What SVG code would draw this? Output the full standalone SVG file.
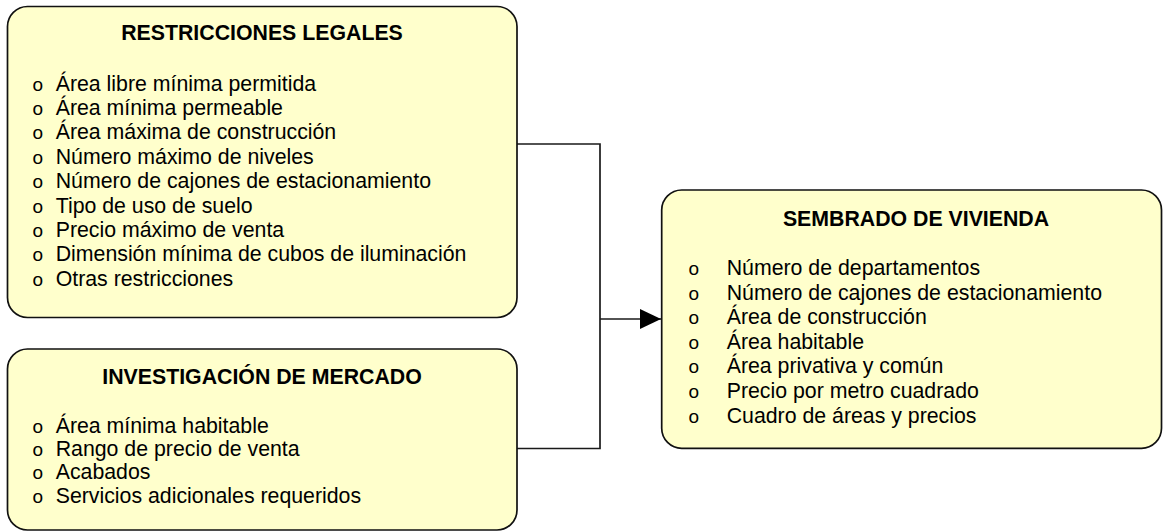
<svg xmlns="http://www.w3.org/2000/svg" width="1163" height="532" viewBox="0 0 1163 532">
<style>
.box{fill:#FFFFCC;stroke:#111;stroke-width:1.7}
.t{font-family:"Liberation Sans",Arial,sans-serif;font-size:21.3px;fill:#000}
.h{font-family:"Liberation Sans",Arial,sans-serif;font-size:21.3px;font-weight:bold;fill:#000;text-anchor:middle}
.b{font-family:"Liberation Sans",Arial,sans-serif;font-size:19px;fill:#000}
.c{fill:none;stroke:#1a1a1a;stroke-width:1.7}
</style>
<defs>
<marker id="arr" markerUnits="userSpaceOnUse" markerWidth="22" markerHeight="22" refX="21" refY="10" orient="auto">
<path d="M0,0 L21,10 L0,20 Z" fill="#000"/>
</marker>
</defs>
<g id="connectors">
<path class="c" d="M517,144 H600 V448.5 H517"/>
<path class="c" d="M600,319 H661" marker-end="url(#arr)"/>
</g>
<g id="restricciones">
<rect class="box" x="7.5" y="6.5" width="509.5" height="311" rx="20"/>
<text class="h" x="262" y="39.5">RESTRICCIONES LEGALES</text>
<g class="b">
<text x="32.5" y="90.5">o</text><text x="32.5" y="114.9">o</text><text x="32.5" y="139.3">o</text><text x="32.5" y="163.7">o</text><text x="32.5" y="188.1">o</text><text x="32.5" y="212.5">o</text><text x="32.5" y="236.9">o</text><text x="32.5" y="261.3">o</text><text x="32.5" y="285.7">o</text>
</g>
<text class="t" x="55.7" y="90.5">Área libre mínima permitida</text>
<text class="t" x="55.7" y="114.9">Área mínima permeable</text>
<text class="t" x="55.7" y="139.3">Área máxima de construcción</text>
<text class="t" x="55.7" y="163.7">Número máximo de niveles</text>
<text class="t" x="55.7" y="188.1">Número de cajones de estacionamiento</text>
<text class="t" x="55.7" y="212.5">Tipo de uso de suelo</text>
<text class="t" x="55.7" y="236.9">Precio máximo de venta</text>
<text class="t" x="55.7" y="261.3">Dimensión mínima de cubos de iluminación</text>
<text class="t" x="55.7" y="285.7">Otras restricciones</text>
</g>
<g id="investigacion">
<rect class="box" x="7.5" y="349" width="509.5" height="181" rx="20"/>
<text class="h" x="262" y="383.5">INVESTIGACIÓN DE MERCADO</text>
<g class="b">
<text x="32.5" y="432.5">o</text><text x="32.5" y="455.9">o</text><text x="32.5" y="479.3">o</text><text x="32.5" y="502.7">o</text>
</g>
<text class="t" x="55.7" y="432.5">Área mínima habitable</text>
<text class="t" x="55.7" y="455.9">Rango de precio de venta</text>
<text class="t" x="55.7" y="479.3">Acabados</text>
<text class="t" x="55.7" y="502.7">Servicios adicionales requeridos</text>
</g>
<g id="sembrado">
<rect class="box" x="661.7" y="190" width="499.8" height="258.3" rx="20"/>
<text class="h" x="916" y="225.7">SEMBRADO DE VIVIENDA</text>
<g class="b">
<text x="688.5" y="275">o</text><text x="688.5" y="299.6">o</text><text x="688.5" y="324.2">o</text><text x="688.5" y="348.8">o</text><text x="688.5" y="373.4">o</text><text x="688.5" y="398">o</text><text x="688.5" y="422.6">o</text>
</g>
<text class="t" x="726.7" y="275">Número de departamentos</text>
<text class="t" x="726.7" y="299.6">Número de cajones de estacionamiento</text>
<text class="t" x="726.7" y="324.2">Área de construcción</text>
<text class="t" x="726.7" y="348.8">Área habitable</text>
<text class="t" x="726.7" y="373.4">Área privativa y común</text>
<text class="t" x="726.7" y="398">Precio por metro cuadrado</text>
<text class="t" x="726.7" y="422.6">Cuadro de áreas y precios</text>
</g>
</svg>
